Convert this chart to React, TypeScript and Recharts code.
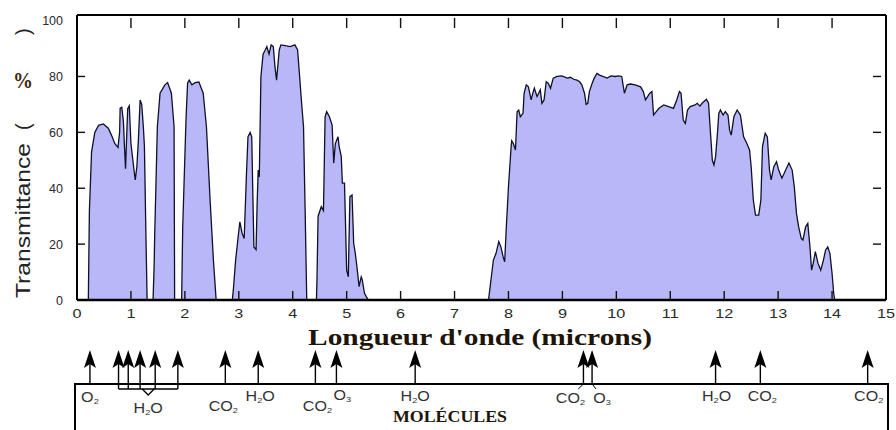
import React from 'react'
import { ComposedChart, Area, XAxis, YAxis, Scatter, Line } from 'recharts'

// transmission windows, [wavelength µm, transmittance %]
const bandNearIR = [
  [0.21, 0], [0.23, 32], [0.27, 53], [0.33, 60], [0.4, 62.5], [0.49, 63], [0.58, 61.5], [0.65, 58.5],
  [0.7, 56], [0.76, 54.6], [0.79, 60], [0.8, 68.7], [0.83, 69], [0.86, 64], [0.88, 55], [0.9, 47],
  [0.92, 58], [0.94, 68.5], [0.97, 69.5], [1.0, 56], [1.03, 51], [1.06, 46], [1.08, 43], [1.11, 47.7],
  [1.14, 58], [1.17, 71.6], [1.2, 70], [1.23, 62], [1.25, 55], [1.27, 32], [1.3, 0],
]
const bandH = [
  [1.41, 0], [1.43, 12], [1.44, 22.7], [1.49, 62], [1.54, 74], [1.63, 77], [1.68, 77.8], [1.75, 74],
  [1.8, 62], [1.81, 0],
]
const bandK = [
  [1.94, 0], [1.96, 26], [2.02, 64], [2.05, 77.6], [2.08, 78.7], [2.13, 77], [2.19, 77.8], [2.26, 78],
  [2.34, 74], [2.4, 62], [2.47, 35], [2.53, 14], [2.58, 0],
]
const bandL = [
  [2.88, 0], [2.9, 4], [2.94, 14], [2.99, 23], [3.02, 28], [3.06, 24], [3.1, 22], [3.14, 44],
  [3.17, 58.4], [3.21, 60], [3.24, 58.4], [3.26, 38], [3.28, 19], [3.32, 18], [3.34, 34.6], [3.36, 46.5],
  [3.38, 44], [3.41, 80], [3.45, 88], [3.49, 89.5], [3.52, 90.7], [3.56, 88], [3.6, 91.3], [3.64, 90.7],
  [3.67, 83.5], [3.7, 78.7], [3.75, 89.5], [3.78, 91.3], [3.86, 91], [3.95, 90.7], [4.04, 91.3],
  [4.09, 89.5], [4.12, 82], [4.16, 71.6], [4.2, 62], [4.23, 32], [4.26, 0],
]
const bandM = [
  [4.44, 0], [4.45, 8], [4.47, 30], [4.53, 33.4], [4.57, 32], [4.6, 65.6], [4.63, 67.4], [4.68, 65.6],
  [4.73, 62.6], [4.76, 49], [4.79, 56], [4.84, 58.4], [4.86, 55], [4.9, 51.3], [4.92, 41.8], [4.96, 41.8],
  [5.0, 10.7], [5.03, 8.3], [5.06, 37], [5.1, 37.6], [5.13, 20.3], [5.16, 16.7], [5.19, 12], [5.23, 4.8],
  [5.27, 8.3], [5.29, 7.2], [5.33, 2.4], [5.4, 0],
]
const bandThermal = [
  [7.6, 0], [7.63, 0], [7.69, 9.5], [7.72, 14.3], [7.77, 16.7], [7.82, 20.9], [7.86, 19], [7.9, 15.5],
  [7.93, 13.7], [7.96, 26], [8.0, 40.5], [8.05, 55], [8.06, 57], [8.09, 56], [8.13, 53.7], [8.16, 67.4],
  [8.19, 68], [8.22, 65.6], [8.27, 66.8], [8.29, 74], [8.33, 77], [8.37, 76.3], [8.42, 71.6], [8.46, 74.6],
  [8.48, 75.8], [8.53, 72.8], [8.56, 74], [8.59, 75.2], [8.62, 70.4], [8.66, 71.6], [8.7, 78.1],
  [8.74, 77.5], [8.78, 75.8], [8.83, 79.4], [8.9, 80], [8.99, 80.2], [9.09, 79.4], [9.15, 79.7],
  [9.21, 79], [9.27, 78.7], [9.32, 78.1], [9.36, 77], [9.41, 74], [9.44, 70], [9.47, 70.4], [9.5, 74.6],
  [9.55, 77.5], [9.59, 79.4], [9.64, 81.1], [9.69, 80.5], [9.75, 80], [9.83, 79.4], [9.9, 80.2],
  [9.98, 80], [10.04, 80.2], [10.1, 80], [10.15, 74], [10.2, 77], [10.26, 77.3], [10.35, 77],
  [10.45, 76.3], [10.5, 74.6], [10.54, 71.6], [10.58, 72.8], [10.62, 74], [10.66, 74.6], [10.69, 66.2],
  [10.74, 67.4], [10.79, 68.6], [10.88, 69.8], [10.97, 69.2], [11.06, 68.6], [11.12, 71.6],
  [11.17, 74.6], [11.2, 74], [11.24, 64.4], [11.28, 63.2], [11.32, 68], [11.37, 69.2], [11.46, 69.8],
  [11.5, 70.4], [11.55, 69.4], [11.59, 70.4], [11.67, 71.8], [11.71, 70.4], [11.74, 61.4], [11.78, 50],
  [11.81, 48.3], [11.84, 51.3], [11.87, 58.4], [11.9, 66.8], [11.93, 68], [11.98, 66.2], [12.02, 67.4],
  [12.07, 66.2], [12.1, 60.8], [12.13, 59], [12.18, 65.6], [12.24, 68], [12.3, 66.2], [12.36, 58.4],
  [12.42, 56], [12.47, 53.7], [12.5, 47.7], [12.54, 35.8], [12.58, 30.4], [12.64, 30.4], [12.68, 35.8],
  [12.71, 54.9], [12.76, 59.7], [12.8, 58.4], [12.84, 46.5], [12.87, 43], [12.92, 47.7], [12.97, 49.5],
  [13.01, 46.5], [13.07, 43.6], [13.14, 46.5], [13.2, 49], [13.26, 46.5], [13.3, 40.5], [13.34, 31],
  [13.38, 26.2], [13.43, 22], [13.46, 21.5], [13.51, 26.2], [13.55, 27.4], [13.59, 19], [13.62, 10.7],
  [13.65, 13.1], [13.69, 17.3], [13.74, 13.1], [13.79, 10.7], [13.84, 14.3], [13.88, 17.9], [13.92, 19],
  [13.96, 16.7], [14.0, 9.5], [14.03, 2.4], [14.05, 0],
]

const xTicks = [0, 1, 2, 3, 4, 5, 6, 7, 8, 9, 10, 11, 12, 13, 14, 15]
const yTicks = [0, 20, 40, 60, 80, 100]
const innerYTicks = [20, 40, 60, 80]
const Y_MAX = 102

// absorption features marked under the plot
const absorptionAt = [0.24, 0.77, 0.95, 1.17, 1.45, 1.87, 2.75, 3.36, 4.42, 4.81, 6.27, 9.39, 9.55, 11.84, 12.67, 14.66]
const absorber = ['O2', 'H2O', 'H2O', 'H2O', 'H2O', 'H2O', 'CO2', 'H2O', 'CO2', 'O3', 'H2O', 'CO2', 'O3', 'H2O', 'CO2', 'CO2']
const inH2OGroup = [false, true, true, true, true, true, false, false, false, false, false, false, false, false, false, false]

// label placement under each arrow: [dx, baseline below arrow tip]
const labelPlace = [
  [0, 52], [0, 0], [0, 0], [0, 0], [0, 0], [0, 0], [-2, 61], [2, 51], [2, 61], [6, 50], [0, 51],
  [-13, 53], [10, 53], [1, 51], [2, 51], [1, 51],
]

const spectrum = [...bandNearIR, ...bandH, ...bandK, ...bandL, ...bandM, ...bandThermal].map(([x, t]) => ({ x, t }))
const arrows = absorptionAt.map((x, i) => ({ x, y: 1, name: absorber[i], grouped: inH2OGroup[i], idx: i }))
const groupX = absorptionAt.filter((_, i) => inH2OGroup[i])
const brace = [
  { x: Math.min(...groupX), y: 0 },
  { x: (Math.min(...groupX) + Math.max(...groupX)) / 2, y: 0 },
  { x: Math.max(...groupX), y: 0 },
]

// plot frame (matches the chart margins + axis sizes below)
const FRAME = { left: 77, right: 886, top: 15, bottom: 300 }
const fx = (v: number) => FRAME.left + (v / 15) * (FRAME.right - FRAME.left)
const fy = (v: number) => FRAME.bottom - (v / Y_MAX) * (FRAME.bottom - FRAME.top)
const innerX = xTicks.slice(1, -1)

const SANS = '"Liberation Sans", Arial, sans-serif'
const SERIF = '"Liberation Serif", "Times New Roman", serif'
const TICK = '#111'

function Formula({ name, x, y }: { name: string; x: number; y: number }) {
  const parts = name.split(/(\d)/).filter(Boolean)
  return (
    <g transform={`translate(${x},${y}) scale(1.15,1)`}>
      <text textAnchor="middle" fontFamily={SANS} fontSize={14} fill="#333">
        {parts.map((p, i) =>
          /\d/.test(p) ? (
            <tspan key={i} fontSize={8} dy={2}>{p}</tspan>
          ) : (
            <tspan key={i} dy={i > 0 ? -2 : 0}>{p}</tspan>
          )
        )}
      </text>
    </g>
  )
}

function ArrowMark(props: any) {
  const { cx, cy, payload } = props
  const stemEnd = payload.grouped ? cy + 39 : cy + 34
  const [dx, dy] = labelPlace[payload.idx]
  return (
    <g>
      <line x1={cx} y1={cy + 12} x2={cx} y2={stemEnd} stroke="#000" strokeWidth={1.4} />
      <polygon points={`${cx},${cy} ${cx - 6},${cy + 18} ${cx},${cy + 14} ${cx + 6},${cy + 18}`} fill="#000" />
      {Math.abs(dx) > 8 && (
        <line x1={cx} y1={stemEnd} x2={cx + dx * 0.4} y2={stemEnd + 5} stroke="#000" strokeWidth={1} />
      )}
      {!payload.grouped && <Formula name={payload.name} x={cx + dx} y={cy + dy} />}
    </g>
  )
}

function BraceDot(props: any) {
  const { cx, cy, index } = props
  if (index !== 1) return <g key={`b${index}`} />
  return (
    <g key="bmid">
      <path d={`M${cx - 6},${cy} L${cx},${cy + 6} L${cx + 6},${cy}`} fill="none" stroke="#000" strokeWidth={1.3} />
      <Formula name="H2O" x={cx} y={cy + 24} />
    </g>
  )
}

function BottomTick({ x, y, payload }: any) {
  return (
    <g transform={`translate(${x},${y + 9}) scale(1.3,1)`}>
      <text textAnchor="middle" dy="0.72em" fontFamily={SANS} fontSize={12.5} fill="#2a2a2a">
        {payload.value}
      </text>
    </g>
  )
}

function LeftTick({ x, y, payload }: any) {
  return (
    <text x={x - 14} y={y} dy="0.36em" textAnchor="end" fontFamily={SANS} fontSize={12.5} fill="#2a2a2a">
      {payload.value}
    </text>
  )
}

export default function App() {
  return (
    <div style={{ position: 'absolute', left: 0, top: 0, width: 896, height: 430, overflow: 'hidden', background: '#fff' }}>
      <svg width={896} height={430} style={{ position: 'absolute', left: 0, top: 0 }}>
        <rect x={75} y={384} width={813} height={120} fill="none" stroke="#000" strokeWidth={2} />
        <text transform="translate(30,298) rotate(-90)" fontFamily={SANS} fontSize={20} fill="#222" textLength={155} lengthAdjust="spacingAndGlyphs">
          Transmittance
        </text>
        <text transform="translate(30,130) rotate(-90)" fontFamily={SANS} fontSize={20} fill="#222">(</text>
        <text transform="translate(30,35) rotate(-90)" fontFamily={SANS} fontSize={20} fill="#222">)</text>
        <text x={13} y={88} fontFamily={SERIF} fontWeight="bold" fontSize={23} fill="#3a2810" textLength={20} lengthAdjust="spacingAndGlyphs">%</text>
        <text x={308} y={345} fontFamily={SERIF} fontWeight="bold" fontSize={23} fill="#1e1408" textLength={344} lengthAdjust="spacingAndGlyphs">
          Longueur d'onde (microns)
        </text>
        <text x={393} y={422} fontFamily={SERIF} fontWeight="bold" fontSize={17} fill="#1e1408" textLength={114} lengthAdjust="spacingAndGlyphs">
          MOLÉCULES
        </text>
      </svg>

      <div style={{ position: 'absolute', left: 0, top: 0 }}>
        <ComposedChart width={896} height={360} data={spectrum} margin={{ top: 14, right: 0, left: 37, bottom: 0 }}>
          <XAxis
            xAxisId="b"
            type="number"
            dataKey="x"
            domain={[0, 15]}
            ticks={xTicks}
            interval={0}
            height={60}
            tickSize={0}
            tickMargin={0}
            tick={BottomTick}
            tickLine={false}
            axisLine={{ stroke: '#000', strokeWidth: 2.5 }}
          />
          <XAxis
            xAxisId="t"
            orientation="top"
            type="number"
            dataKey="x"
            domain={[0, 15]}
            height={1}
            tick={false}
            tickLine={false}
            axisLine={{ stroke: '#000', strokeWidth: 2 }}
          />
          <YAxis
            yAxisId="l"
            type="number"
            domain={[0, Y_MAX]}
            ticks={yTicks}
            interval={0}
            width={40}
            tickSize={0}
            tickMargin={0}
            tick={LeftTick}
            tickLine={false}
            axisLine={{ stroke: '#000', strokeWidth: 2 }}
          />
          <YAxis
            yAxisId="r"
            orientation="right"
            type="number"
            domain={[0, Y_MAX]}
            width={10}
            tick={false}
            tickLine={false}
            axisLine={{ stroke: '#000', strokeWidth: 2 }}
          />
          <Area
            xAxisId="b"
            yAxisId="l"
            type="linear"
            dataKey="t"
            baseValue={0}
            stroke="#10102a"
            strokeWidth={1.3}
            fill="#b8b8f8"
            fillOpacity={1}
            dot={false}
            activeDot={false}
            isAnimationActive={false}
          />
        </ComposedChart>
      </div>

      {/* inward tick marks on the frame */}
      <svg width={896} height={430} style={{ position: 'absolute', left: 0, top: 0 }}>
        {innerX.map((v) => (
          <g key={`x${v}`} stroke={TICK} strokeWidth={1.4}>
            <line x1={fx(v)} y1={FRAME.bottom} x2={fx(v)} y2={FRAME.bottom - 9} />
            <line x1={fx(v)} y1={FRAME.top + 3} x2={fx(v)} y2={FRAME.top + 13} />
          </g>
        ))}
        {innerYTicks.map((v) => (
          <g key={`y${v}`} stroke={TICK} strokeWidth={1.4}>
            <line x1={FRAME.left} y1={fy(v)} x2={FRAME.left + 8} y2={fy(v)} />
            <line x1={FRAME.right - 13} y1={fy(v)} x2={FRAME.right - 5} y2={fy(v)} />
          </g>
        ))}
      </svg>

      <div style={{ position: 'absolute', left: 0, top: 340 }}>
        <ComposedChart width={896} height={90} margin={{ top: 10, right: 10, left: 77, bottom: 41 }}>
          <XAxis type="number" dataKey="x" domain={[0, 15]} hide />
          <YAxis type="number" dataKey="y" domain={[0, 1]} hide width={0} />
          <Line data={brace} dataKey="y" type="linear" stroke="#000" strokeWidth={1.3} dot={BraceDot} activeDot={false} isAnimationActive={false} />
          <Scatter data={arrows} dataKey="y" shape={ArrowMark} isAnimationActive={false} />
        </ComposedChart>
      </div>
    </div>
  )
}
